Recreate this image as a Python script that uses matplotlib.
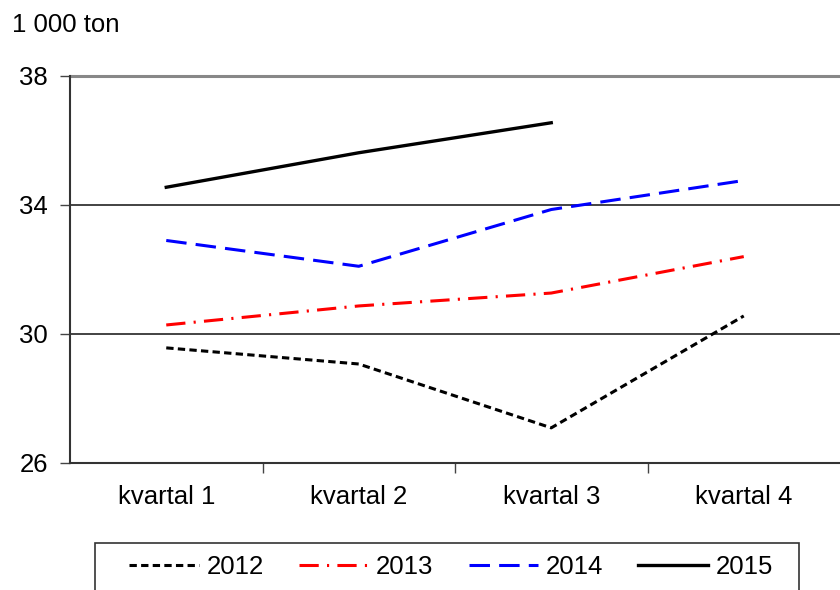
import matplotlib
matplotlib.use("Agg")
from matplotlib import pyplot as plt
from matplotlib.patches import Rectangle

plt.rcParams['font.family'] = ['Liberation Sans', 'DejaVu Sans']

quarters = ["kvartal 1", "kvartal 2", "kvartal 3", "kvartal 4"]
y2012 = [29.57, 29.07, 27.09, 30.56]
y2013 = [30.28, 30.87, 31.27, 32.4]
y2014 = [32.9, 32.1, 33.86, 34.76]
y2015 = [34.55, 35.62, 36.55]
years = ["2012", "2013", "2014", "2015"]

fs = 18.5
W, H = 840, 590
fig = plt.figure(figsize=(W / 100, H / 100), dpi=100)
ax = fig.add_axes([70 / W, (H - 463) / H, (W - 70) / W, (463 - 76) / H])

x = list(range(len(quarters)))
ax.plot(x, y2012, color="black", lw=2.2, dashes=(2.4, 1.4), label=years[0])
ax.plot(x, y2013, color="red", lw=2.2, dashes=(6.3, 2.7, 0.7, 2.7), label=years[1])
ax.plot(x, y2014, color="blue", lw=2.2, dashes=(6.7, 3.0), label=years[2])
ax.plot(x[:3], y2015, color="black", lw=2.4, label=years[3])

ax.set_xlim(-0.5, 3.5)
ax.set_ylim(26, 38)
ax.set_yticks([26, 30, 34, 38])
ax.set_xticks(x)
ax.set_xticklabels(quarters)
ax.set_xticks([0.5, 1.5, 2.5], minor=True)
ax.tick_params(axis="x", which="major", length=0, pad=16, labelsize=fs)
ax.tick_params(axis="x", which="minor", length=7, width=1, direction="out", color="#444444")
ax.tick_params(axis="y", length=7, width=1, direction="out", pad=9, labelsize=fs, color="#444444")

for v in [30, 34]:
    ax.axhline(v, color="#222222", lw=1.2, zorder=0)
ax.axhline(38, color="#888888", lw=2.2, zorder=0, clip_on=False)

ax.spines["right"].set_visible(False)
ax.spines["top"].set_visible(False)
ax.spines["left"].set_color("#333333")
ax.spines["left"].set_linewidth(1.5)
ax.spines["bottom"].set_color("#333333")
ax.spines["bottom"].set_linewidth(1.5)

fig.text(12 / W, 1 - 25 / H, "1 000 ton", fontsize=fs, va="center", ha="left")

leg = fig.legend(loc="center", bbox_to_anchor=(451 / W, 1 - 567 / H), ncol=4,
                 frameon=False, fontsize=fs, handlelength=2.7, handletextpad=0.3,
                 columnspacing=1.37)

fig.patches.append(Rectangle((95 / W, -0.05), (799 - 95) / W, 0.05 + (H - 543) / H,
                             transform=fig.transFigure, fill=False,
                             edgecolor="#333333", lw=1.2))

fig.savefig("out.png", dpi=100)
